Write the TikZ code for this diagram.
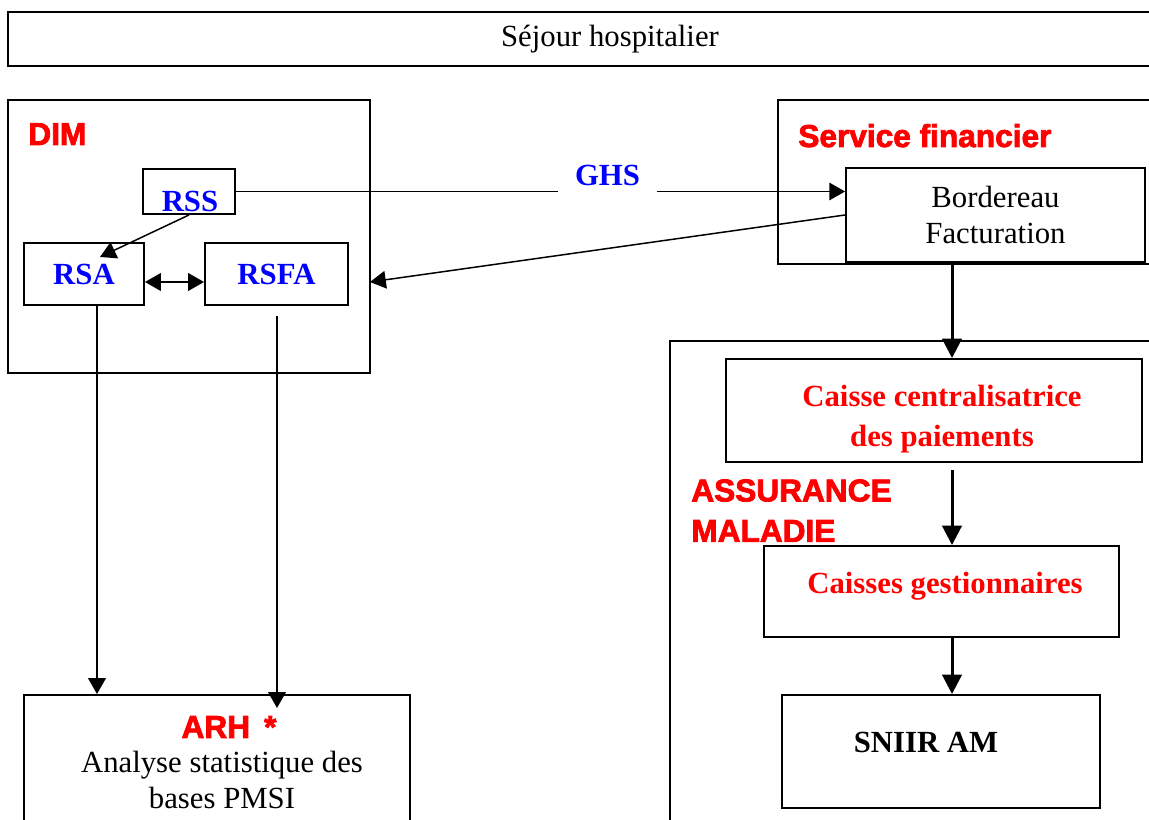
\documentclass[tikz,border=0pt]{standalone}
\usepackage{fontspec}
\setmainfont{Liberation Serif}
\newfontfamily\lourde{Liberation Sans}[UprightFont={* Bold}, UprightFeatures={FakeBold=2.5}]
\usepackage{xcolor}
\usepackage{tikz}
\usetikzlibrary{positioning,calc,arrows.meta}
\definecolor{RougeVif}{RGB}{255,0,0}
\definecolor{BleuVif}{RGB}{0,0,255}
\tikzset{
    boite/.style={draw=black, line width=1.1pt, inner sep=0pt},
    fleche/.style={-{Triangle[length=9pt, width=10pt]}, line width=0.85pt}
}

\begin{document}
\begin{tikzpicture}[
        x=0.02cm, y=-0.02cm,
        % Titres rouges en gras (sans serif)
        titre/.style={font=\lourde\fontsize{18}{23}\selectfont, text=RougeVif, inner sep=0pt},
        % Textes des cases
        texte/.style={font=\fontsize{17.5}{21}\selectfont, align=center},
        bleu/.style={font=\bfseries\fontsize{17.5}{21}\selectfont, text=BleuVif},
        rouge/.style={font=\bfseries\fontsize{17.5}{22.5}\selectfont, text=RougeVif, align=center},
        % Grosses fleches de l'assurance maladie
        grosse/.style={-{Triangle[length=11pt, width=11pt]}, line width=1.7pt}
    ]
        \useasboundingbox (0,0) rectangle (1149,820);

        % --- 1. BANDEAU ---
        \node[boite, minimum width=24.08cm, minimum height=1.08cm, texte] (sejour) at (610,39) {Séjour hospitalier};

        % --- 2. DIM ---
        \node[boite, minimum width=7.24cm, minimum height=5.46cm] (dim) at (189,236.5) {};
        \node[titre, anchor=base west] (titredim) at (28,145) {DIM};
        \node[boite, minimum width=1.84cm, minimum height=0.9cm] (rss) at (189,191.5) {};
        \node[bleu, anchor=base] (txtrss) at (190,212) {RSS};
        \node[boite, minimum width=2.4cm, minimum height=1.24cm, bleu] (rsa) at (84,274) {RSA};
        \node[boite, minimum width=2.86cm, minimum height=1.24cm, bleu] (rsfa) at (276.5,274) {RSFA};

        % --- 3. SERVICE FINANCIER ---
        \node[boite, minimum width=8.68cm, minimum height=3.28cm] (financier) at (995,182) {};
        \node[titre, anchor=base west] (titrefin) at (798,147) {Service financier};
        \node[boite, minimum width=5.98cm, minimum height=1.88cm, texte] (bordereau) at (995.5,215) {Bordereau\\Facturation};

        % --- 4. ASSURANCE MALADIE ---
        \node[boite, minimum width=10.84cm, minimum height=10.78cm] (assurance) at (941,610.5) {};
        \node[boite, minimum width=8.32cm, minimum height=2.06cm] (centrale) at (934,410.5) {};
        \node[rouge] (txtcentrale) at (942,419) {Caisse centralisatrice\\des paiements};
        \node[titre, anchor=north west, align=left] (titream) at (691,479) {ASSURANCE\\MALADIE};
        \node[boite, minimum width=7.1cm, minimum height=1.82cm] (gestion) at (941.5,591.5) {};
        \node[rouge] (txtgestion) at (945,586) {Caisses gestionnaires};
        \node[boite, minimum width=6.36cm, minimum height=2.26cm] (sniir) at (941,751.5) {};
        \node[texte, font=\bfseries\fontsize{17.5}{21}\selectfont] (txtsniir) at (926,742) {SNIIR AM};

        % --- 5. ARH ---
        \node[boite, minimum width=7.72cm, minimum height=4.1cm] (arh) at (217,797.5) {};
        \node[titre] (titrearh) at (229,727) {ARH \,*};
        \node[texte] (txtarh) at (222,780) {Analyse statistique des\\bases PMSI};

        % --- 6. FLECHES ---
        \coordinate (pointrsa) at (100,257);
        \coordinate (entreedim) at (370,282);
        \coordinate (departrsa) at (97,305);
        \coordinate (departrsfa) at (277,316);
        \coordinate (arriveearh) at (277,708);
        \coordinate (axe) at (952,0);
        \coordinate (departgestion) at (952,470);

        \draw[fleche] (rss.south) -- (pointrsa);
        \draw[{Triangle[length=9pt, width=10pt]}-{Triangle[length=9pt, width=10pt]}, line width=1.1pt]
            ($(rsa.east)+(0,8)$) -- ($(rsfa.west)+(0,8)$);
        \draw[fleche] (rss.east) -- (rss.east -| bordereau.west)
            node[pos=0.61, bleu, fill=white, inner xsep=9.5pt, inner ysep=5pt, anchor=base, yshift=3.5pt] (ghs) {GHS};
        \draw[fleche] (bordereau.west) -- (entreedim);
        \draw[fleche] (departrsa) -- (departrsa |- arh.north);
        \draw[fleche] (departrsfa) -- (arriveearh);
        \draw[grosse] (bordereau.south -| axe) -- (centrale.north -| axe);
        \draw[grosse] (departgestion) -- (gestion.north -| axe);
        \draw[grosse] (gestion.south -| axe) -- (sniir.north -| axe);

    \end{tikzpicture}
\end{document}
